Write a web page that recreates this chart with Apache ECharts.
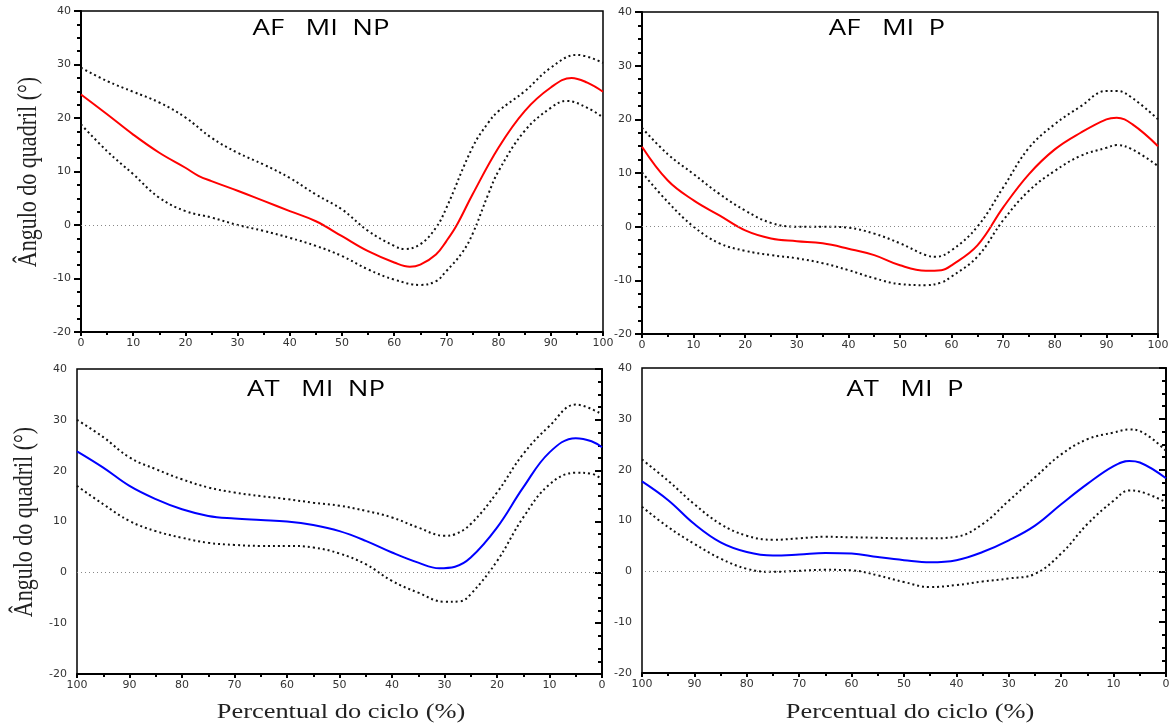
<!DOCTYPE html>
<html>
<head>
<meta charset="utf-8">
<script src="https://cdn.jsdelivr.net/npm/echarts@6/dist/echarts.min.js"></script>
<style>
html,body{margin:0;padding:0;background:#fff;}
#chart{width:1176px;height:724px;}
</style>
</head>
<body>
<div id="chart"></div>
<script>
// ---------- DATA ----------
const titles = ['AF   MI  NP', 'AF   MI  P', 'AT   MI  NP', 'AT   MI  P'];
const yAxisName = 'Ângulo do quadril (°)';
const xAxisName = 'Percentual do ciclo (%)';
const xTicks = [0, 10, 20, 30, 40, 50, 60, 70, 80, 90, 100];
const yTicks = [-20, -10, 0, 10, 20, 30, 40];

// Panel 1: AF MI NP
const p1MeanX = [0, 5, 10, 15, 20, 22.5, 25, 30, 35, 40, 45, 50, 55, 60, 63, 65, 68, 70, 72, 75, 80, 85, 90, 94, 97, 100];
const p1MeanY = [24.4, 20.7, 16.9, 13.5, 10.7, 9.2, 8.2, 6.4, 4.5, 2.6, 0.7, -2.1, -4.9, -7.0, -7.8, -7.4, -5.5, -3.0, 0, 5.7, 14.5, 21.3, 25.7, 27.5, 26.6, 24.9];
const p1UpX = [0, 5, 10, 15, 20, 25, 30, 35, 40, 45, 50, 55, 60, 62, 65, 68, 70, 75, 78, 80, 85, 90, 95, 100];
const p1UpY = [29.4, 26.9, 24.9, 22.9, 20.1, 16.3, 13.5, 11.3, 8.8, 5.7, 2.9, -1.1, -3.9, -4.5, -3.6, -0.5, 3.2, 14.5, 19.1, 21.3, 25.0, 29.4, 31.8, 30.3];
const p1LowX = [0, 5, 10, 15, 20, 25, 30, 35, 40, 45, 50, 55, 60, 65, 68, 70, 73, 75, 78, 80, 85, 90, 93, 97, 100];
const p1LowY = [18.8, 13.8, 9.5, 5.1, 2.6, 1.4, 0, -1.1, -2.4, -3.9, -5.8, -8.3, -10.2, -11.2, -10.5, -8.6, -5.2, -1.7, 5.7, 10.1, 17.6, 21.9, 23.2, 21.9, 20.1];

// Panel 2: AF MI P
const p2MeanX = [0, 5, 10, 15, 20, 25, 30, 35, 40, 45, 50, 55, 58, 60, 65, 70, 75, 80, 85, 90, 92, 95, 100];
const p2MeanY = [14.9, 8.6, 4.9, 2.1, -0.7, -2.2, -2.7, -3.1, -4.1, -5.3, -7.2, -8.2, -8.1, -7.2, -3.5, 3.6, 9.8, 14.4, 17.5, 20.0, 20.3, 19.1, 15.0];
const p2UpX = [0, 5, 10, 15, 20, 25, 30, 35, 40, 45, 50, 55, 57, 60, 65, 70, 75, 80, 85, 90, 92, 95, 100];
const p2UpY = [18.4, 13.5, 9.8, 6.1, 3.0, 0.7, 0, 0, -0.2, -1.3, -3.1, -5.3, -5.6, -4.4, 0, 7.3, 14.7, 19.1, 22.4, 25.3, 25.3, 24.0, 20.0];
const p2LowX = [0, 5, 10, 15, 20, 25, 30, 35, 40, 45, 50, 55, 58, 60, 65, 70, 75, 80, 85, 90, 92, 95, 100];
const p2LowY = [10.1, 4.6, 0, -3.1, -4.5, -5.3, -5.9, -6.8, -8.1, -9.6, -10.7, -10.9, -10.4, -9.3, -5.6, 1.2, 6.7, 10.4, 13.2, 14.7, 15.2, 14.4, 11.3];

// Panel 3: AT MI NP (x axis runs 100 -> 0)
const p3MeanX = [100, 95, 90, 85, 80, 75, 70, 65, 60, 55, 50, 45, 40, 35, 31, 28, 25, 20, 15, 10, 5, 2, 0];
const p3MeanY = [23.8, 20.6, 17.0, 14.4, 12.4, 11.1, 10.6, 10.3, 10.0, 9.3, 8.1, 6.2, 3.9, 1.9, 0.8, 1.1, 2.9, 8.8, 16.7, 23.6, 26.4, 25.8, 24.6];
const p3UpX = [100, 95, 90, 85, 80, 75, 70, 65, 60, 55, 50, 45, 40, 35, 30, 28, 25, 20, 15, 10, 5, 0];
const p3UpY = [30.0, 26.6, 22.6, 20.3, 18.3, 16.7, 15.7, 15.0, 14.4, 13.7, 13.1, 12.1, 10.8, 8.8, 7.2, 7.5, 9.5, 15.7, 23.3, 28.8, 33.0, 31.1];
const p3LowX = [100, 95, 90, 85, 80, 75, 70, 65, 60, 55, 50, 45, 40, 35, 30, 27, 25, 20, 15, 10, 5, 2, 0];
const p3LowY = [17.0, 13.4, 10.1, 8.1, 6.8, 5.8, 5.4, 5.2, 5.2, 4.9, 3.7, 1.6, -1.7, -4.0, -5.8, -5.7, -4.3, 2.2, 10.8, 17.3, 19.6, 19.4, 18.3];

// Panel 4: AT MI P (x axis runs 100 -> 0)
const p4MeanX = [100, 95, 90, 85, 80, 75, 70, 65, 60, 55, 50, 45, 40, 35, 30, 25, 20, 15, 10, 7, 5, 0];
const p4MeanY = [17.7, 14.0, 9.3, 5.7, 3.8, 3.1, 3.3, 3.6, 3.5, 2.8, 2.2, 1.8, 2.2, 3.8, 6.1, 9.0, 13.2, 17.2, 20.7, 21.7, 21.4, 18.3];
const p4UpX = [100, 95, 90, 85, 80, 75, 70, 65, 60, 55, 50, 45, 40, 35, 30, 25, 20, 15, 10, 7, 5, 0];
const p4UpY = [22.0, 17.8, 13.2, 9.3, 7.0, 6.2, 6.5, 6.8, 6.7, 6.6, 6.5, 6.5, 6.8, 9.3, 13.9, 18.5, 23.0, 26.0, 27.3, 27.9, 27.6, 23.7];
const p4LowX = [100, 95, 90, 85, 80, 75, 70, 65, 60, 55, 50, 45, 40, 35, 30, 25, 20, 15, 10, 7, 5, 0];
const p4LowY = [12.7, 8.7, 5.4, 2.5, 0.5, -0.1, 0.1, 0.3, 0.2, -0.8, -2.1, -3.1, -2.7, -2.0, -1.4, -0.5, 3.5, 9.3, 13.9, 15.9, 15.7, 13.6];

// ---------- CHART ----------
const panels = [
  {mx: p1MeanX, my: p1MeanY, ux: p1UpX, uy: p1UpY, lx: p1LowX, ly: p1LowY, color: '#ff0000', inverse: false},
  {mx: p2MeanX, my: p2MeanY, ux: p2UpX, uy: p2UpY, lx: p2LowX, ly: p2LowY, color: '#ff0000', inverse: false},
  {mx: p3MeanX, my: p3MeanY, ux: p3UpX, uy: p3UpY, lx: p3LowX, ly: p3LowY, color: '#0000ff', inverse: true},
  {mx: p4MeanX, my: p4MeanY, ux: p4UpX, uy: p4UpY, lx: p4LowX, ly: p4LowY, color: '#0000ff', inverse: true}
];
const grids = [
  {left: 81, top: 11, width: 522, height: 321},
  {left: 642, top: 12, width: 516, height: 322},
  {left: 77, top: 369, width: 525, height: 305},
  {left: 642, top: 368, width: 524, height: 305}
];
const titlePos = [[321, 29], [887, 29], [316, 390], [905, 390]];

const zip = (xs, ys) => xs.map((x, i) => [x, ys[i]]);
const TICKFONT = 'DejaVu Sans';

const option = {
  animation: false,
  backgroundColor: '#fff',
  grid: grids.map(g => Object.assign({show: true, borderColor: '#000', borderWidth: 1.5, backgroundColor: 'transparent'}, g)),
  xAxis: panels.map((p, i) => ({
    type: 'value', gridIndex: i, min: xTicks[0], max: xTicks[xTicks.length - 1], interval: 10,
    inverse: p.inverse,
    axisLine: {show: true, onZero: false, lineStyle: {color: '#000', width: 2}},
    axisTick: {show: true, length: 4, lineStyle: {color: '#000', width: 2}},
    minorTick: {show: true, splitNumber: 2, length: 3, lineStyle: {color: '#000', width: 2}},
    splitLine: {show: false},
    axisLabel: {color: '#333', fontSize: 11, fontFamily: TICKFONT, margin: 6, showMinLabel: true, showMaxLabel: true}
  })),
  yAxis: panels.map((p, i) => ({
    type: 'value', gridIndex: i, min: yTicks[0], max: yTicks[yTicks.length - 1], interval: 10,
    axisLine: {show: true, lineStyle: {color: '#000', width: 2}},
    axisTick: {show: true, length: 7, lineStyle: {color: '#000', width: 2}},
    minorTick: {show: true, splitNumber: 4, length: 4, lineStyle: {color: '#000', width: 2}},
    splitLine: {show: false},
    axisLabel: {color: '#333', fontSize: 11, fontFamily: TICKFONT, margin: 10, showMinLabel: true, showMaxLabel: true}
  })),
  series: [],
  graphic: []
};

panels.forEach((p, i) => {
  option.series.push({
    type: 'line', xAxisIndex: i, yAxisIndex: i, data: zip(p.ux, p.uy), smooth: 0.4, showSymbol: false,
    lineStyle: {color: '#111', width: 2, type: [2, 3]}, z: 3
  });
  option.series.push({
    type: 'line', xAxisIndex: i, yAxisIndex: i, data: zip(p.lx, p.ly), smooth: 0.4, showSymbol: false,
    lineStyle: {color: '#111', width: 2, type: [2, 3]}, z: 3
  });
  option.series.push({
    type: 'line', xAxisIndex: i, yAxisIndex: i, data: zip(p.mx, p.my), smooth: 0.4, showSymbol: false,
    lineStyle: {color: p.color, width: 2}, z: 4,
    markLine: {
      silent: true, symbol: 'none', label: {show: false},
      lineStyle: {color: '#888', width: 1, type: [1, 3]},
      data: [{yAxis: 0}]
    }
  });
  option.graphic.push({
    type: 'text', x: titlePos[i][0], y: titlePos[i][1], scaleX: 1.25,
    style: {text: titles[i], font: '22px "Open Sans"', fill: '#000', textAlign: 'center', textVerticalAlign: 'middle'}
  });
});

// y-axis names (left panels)
[[29, 172], [25, 522]].forEach(pos => {
  option.graphic.push({
    type: 'text', x: pos[0], y: pos[1], rotation: Math.PI / 2, scaleY: 1.2,
    style: {text: yAxisName, font: '22px "Liberation Serif"', fill: '#222', textAlign: 'center', textVerticalAlign: 'middle'}
  });
});
// x-axis names (bottom panels)
[[341, 712], [910, 712]].forEach(pos => {
  option.graphic.push({
    type: 'text', x: pos[0], y: pos[1], scaleX: 1.2,
    style: {text: xAxisName, font: '22px "Liberation Serif"', fill: '#222', textAlign: 'center', textVerticalAlign: 'middle'}
  });
});

const chart = echarts.init(document.getElementById('chart'), null, {renderer: 'canvas'});
chart.setOption(option);
</script>
</body>
</html>
